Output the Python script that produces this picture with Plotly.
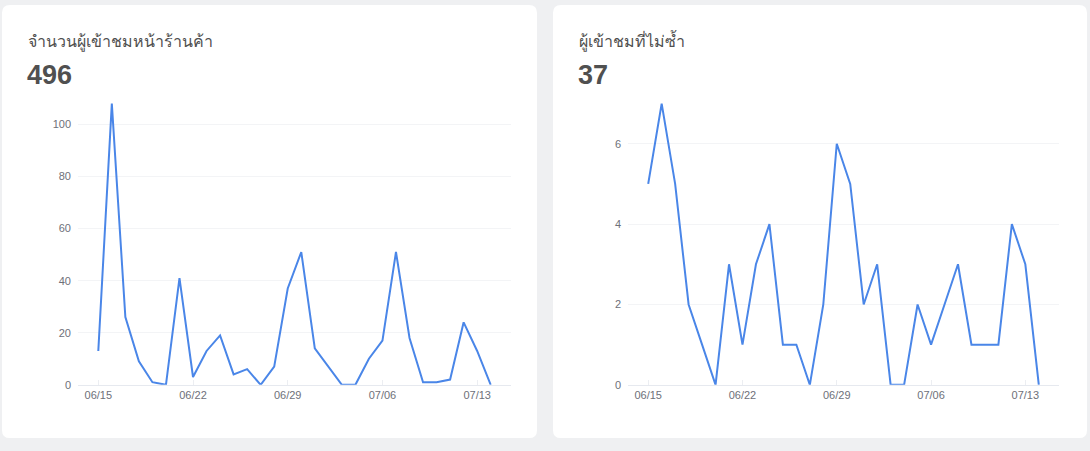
import plotly.graph_objects as go
import pandas as pd

# ---- data ----
dates = pd.date_range("2023-06-15", "2023-07-14", freq="D")
visits = [13, 108, 26, 9, 1, 0, 41, 3, 13, 19, 4, 6, 0, 7, 37, 51, 14, 7, 0, 0,
          10, 17, 51, 18, 1, 1, 2, 24, 13, 0]
unique_visits = [5, 7, 5, 2, 1, 0, 3, 1, 3, 4, 1, 1, 0, 2, 6, 5, 2, 3, 0, 0,
                 2, 1, 2, 3, 1, 1, 1, 4, 3, 0]
tick_dates = ["2023-06-15", "2023-06-22", "2023-06-29", "2023-07-06", "2023-07-13"]
tick_labels = ["06/15", "06/22", "06/29", "07/06", "07/13"]
titles = ["จำนวนผู้เข้าชมหน้าร้านค้า", "ผู้เข้าชมที่ไม่ซ้ำ"]
totals = ["496", "37"]

W, H = 1090, 451
LINE = "#4a86e8"
LABEL = "#6e7079"
FONT = "Liberation Sans, Arial, sans-serif"

def px(x):
    return x / W

def py(y):
    return 1 - y / H

fig = go.Figure()

def rounded_rect(x0, y0, x1, y1, r):
    pts = [
        f"M {px(x0 + r)} {py(y0)}",
        f"L {px(x1 - r)} {py(y0)}",
        f"Q {px(x1)} {py(y0)} {px(x1)} {py(y0 + r)}",
        f"L {px(x1)} {py(y1 - r)}",
        f"Q {px(x1)} {py(y1)} {px(x1 - r)} {py(y1)}",
        f"L {px(x0 + r)} {py(y1)}",
        f"Q {px(x0)} {py(y1)} {px(x0)} {py(y1 - r)}",
        f"L {px(x0)} {py(y0 + r)}",
        f"Q {px(x0)} {py(y0)} {px(x0 + r)} {py(y0)}",
        "Z",
    ]
    return " ".join(pts)

cards = [(2, 5, 537, 444), (553, 5, 1087, 444)]
shapes = []
for (x0, y0, x1, y1) in cards:
    shapes.append(dict(type="path", xref="paper", yref="paper",
                       path=rounded_rect(x0, y0, x1, y1, 8),
                       fillcolor="white", line=dict(width=0), layer="below"))

series = [visits, unique_visits]
plot_x = [(78, 511), (628, 1059)]
y_top_px, y_bot_px, data_top_px = 100, 390, 105
dticks = [20, 2]

annotations = []
for i, (vals, (x0, x1)) in enumerate(zip(series, plot_x)):
    xa = "x" if i == 0 else "x2"
    ya = "y" if i == 0 else "y2"
    fig.add_trace(go.Scatter(x=dates, y=vals, mode="lines",
                             line=dict(color=LINE, width=2),
                             xaxis=xa, yaxis=ya, hoverinfo="x+y",
                             showlegend=False))
    vmax = max(vals)
    per = (y_bot_px - data_top_px) / vmax
    rmax = (y_bot_px - y_top_px) / per
    xkey = "xaxis" if i == 0 else "xaxis2"
    ykey = "yaxis" if i == 0 else "yaxis2"
    fig.update_layout(**{
        xkey: dict(domain=[px(x0), px(x1)], anchor=ya, type="date",
                   range=[pd.Timestamp("2023-06-15") - pd.Timedelta(hours=36),
                          pd.Timestamp("2023-07-14") + pd.Timedelta(hours=36)],
                   tickvals=tick_dates, ticktext=tick_labels,
                   showgrid=False, zeroline=False, showline=True,
                   linecolor="#e6e9ef", linewidth=1,
                   ticks="inside", ticklen=5, tickcolor="#eceef2",
                   tickfont=dict(size=11, color=LABEL, family=FONT),
                   fixedrange=True),
        ykey: dict(domain=[py(y_bot_px), py(y_top_px)], anchor=xa,
                   range=[0, rmax], dtick=dticks[i], tick0=0,
                   showgrid=True, gridcolor="#f3f4f6", gridwidth=1,
                   zeroline=False, showline=False, ticks="",
                   ticklabelstandoff=6,
                   tickfont=dict(size=11, color=LABEL, family=FONT),
                   fixedrange=True),
    })
    cx = cards[i][0] + 24
    annotations.append(dict(text=titles[i], x=px(cx), y=py(42), xref="paper", yref="paper",
                            xanchor="left", yanchor="middle", showarrow=False,
                            font=dict(size=16, color="#505050", family="Noto Sans, sans-serif")))
    annotations.append(dict(text=f"<b>{totals[i]}</b>", x=px(cx - 1), y=py(76), xref="paper", yref="paper",
                            xanchor="left", yanchor="middle", showarrow=False,
                            font=dict(size=27, color="#505050", family=FONT)))

fig.update_layout(width=W, height=H, margin=dict(l=0, r=0, t=0, b=0),
                  paper_bgcolor="#eff0f2", plot_bgcolor="rgba(0,0,0,0)",
                  shapes=shapes, annotations=annotations,
                  font=dict(family=FONT))

fig.write_html("out.html", config={"displayModeBar": False, "responsive": False},
               default_width="1090px", default_height="451px")
